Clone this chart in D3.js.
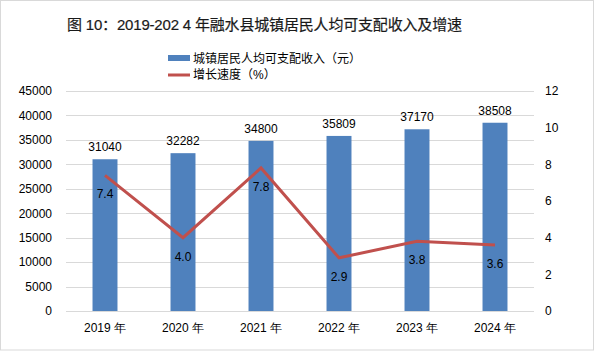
<!DOCTYPE html>
<html>
<head>
<meta charset="utf-8">
<script src="https://cdn.jsdelivr.net/npm/d3@7"></script>
<style>
  body { margin: 0; background: #fff; }
  svg { display: block; font-family: "Liberation Sans", Arial, "Noto Sans CJK SC", sans-serif; }
</style>
</head>
<body>
<svg id="chart" width="596" height="352"></svg>
<script>
const years = ["2019 年", "2020 年", "2021 年", "2022 年", "2023 年", "2024 年"];
const income = [31040, 32282, 34800, 35809, 37170, 38508];
const growth = [7.4, 4.0, 7.8, 2.9, 3.8, 3.6];
const leftTicks = [0, 5000, 10000, 15000, 20000, 25000, 30000, 35000, 40000, 45000];
const rightTicks = [0, 2, 4, 6, 8, 10, 12];

const svg = d3.select("#chart");
const margin = { top: 91, left: 66, right: 62, bottom: 41 };
const W = 596, H = 352;
const figW = W - margin.left - margin.right;
const figH = H - margin.top - margin.bottom;

// 外框
svg.append("rect")
    .attr("x", 0.5).attr("y", 0.5)
    .attr("width", W - 3).attr("height", H - 2.5)
    .attr("fill", "#fff").attr("stroke", "#d9d9d9");

// 标题
svg.append("text")
    .attr("x", 67).attr("y", 30)
    .attr("font-size", 15)
    .attr("fill", "#1a1a1a")
    .attr("stroke", "#1a1a1a").attr("stroke-width", 0.2)
    .attr("textLength", 395).attr("lengthAdjust", "spacing")
    .text("图 10：2019-202 4 年融水县城镇居民人均可支配收入及增速");

// 图例
const legend = svg.append("g").attr("transform", "translate(168,0)");
legend.append("rect").attr("x", 0).attr("y", 55).attr("width", 22).attr("height", 6).attr("fill", "#4F81BD");
legend.append("text").attr("x", 25).attr("y", 63).attr("font-size", 12).attr("fill", "#000")
    .text("城镇居民人均可支配收入（元）");
legend.append("line").attr("x1", 0).attr("x2", 22).attr("y1", 75).attr("y2", 75)
    .attr("stroke", "#C0504D").attr("stroke-width", 3);
legend.append("text").attr("x", 25).attr("y", 79).attr("font-size", 12).attr("fill", "#000")
    .text("增长速度（%）");

const fig = svg.append("g").attr("transform", `translate(${margin.left},${margin.top})`);

const x = d3.scaleBand().domain(years).range([0, figW]);
const yL = d3.scaleLinear().domain([0, 45000]).range([figH, 0]);
const yR = d3.scaleLinear().domain([0, 12]).range([figH, 0]);

// 网格线
fig.append("g")
    .selectAll("line")
    .data(leftTicks)
    .join("line")
    .attr("x1", 0).attr("x2", figW)
    .attr("y1", d => Math.round(yL(d)) + 0.5).attr("y2", d => Math.round(yL(d)) + 0.5)
    .attr("stroke", "#d9d9d9");

// 左轴
const axL = fig.append("g")
    .call(d3.axisLeft(yL).tickValues(leftTicks).tickSize(0).tickPadding(14).tickFormat(d3.format("d")));
axL.select(".domain").remove();
axL.selectAll("text").attr("font-size", 12).attr("fill", "#000").style("font-family", "inherit");

// 右轴
const axR = fig.append("g")
    .attr("transform", `translate(${figW},0)`)
    .call(d3.axisRight(yR).tickValues(rightTicks).tickSize(0).tickPadding(11));
axR.select(".domain").remove();
axR.selectAll("text").attr("font-size", 12).attr("fill", "#000").style("font-family", "inherit");

// X轴
const axX = fig.append("g")
    .attr("transform", `translate(0,${figH})`)
    .call(d3.axisBottom(x).tickSize(0).tickPadding(12));
axX.select(".domain").remove();
axX.selectAll("text").attr("font-size", 12).attr("fill", "#000").style("font-family", "inherit");

// 柱子
const barW = x.bandwidth() * 0.32;
fig.append("g")
    .selectAll("rect")
    .data(income)
    .join("rect")
    .attr("x", (d, i) => x(years[i]) + (x.bandwidth() - barW) / 2)
    .attr("y", d => yL(d))
    .attr("width", barW)
    .attr("height", d => figH - yL(d))
    .attr("fill", "#4F81BD");

fig.append("g")
    .selectAll("text")
    .data(income)
    .join("text")
    .attr("x", (d, i) => x(years[i]) + x.bandwidth() / 2)
    .attr("y", d => yL(d) - 8)
    .attr("text-anchor", "middle")
    .attr("font-size", 12)
    .attr("fill", "#000")
    .text(d => d);

// 折线
const line = d3.line()
    .x((d, i) => x(years[i]) + x.bandwidth() / 2)
    .y(d => yR(d));
fig.append("path")
    .datum(growth)
    .attr("d", line)
    .attr("fill", "none")
    .attr("stroke", "#C0504D")
    .attr("stroke-width", 3);

fig.append("g")
    .selectAll("text")
    .data(growth)
    .join("text")
    .attr("x", (d, i) => x(years[i]) + x.bandwidth() / 2)
    .attr("y", d => yR(d) + 23)
    .attr("text-anchor", "middle")
    .attr("font-size", 12)
    .attr("fill", "#000")
    .text(d => d.toFixed(1));
</script>
</body>
</html>
